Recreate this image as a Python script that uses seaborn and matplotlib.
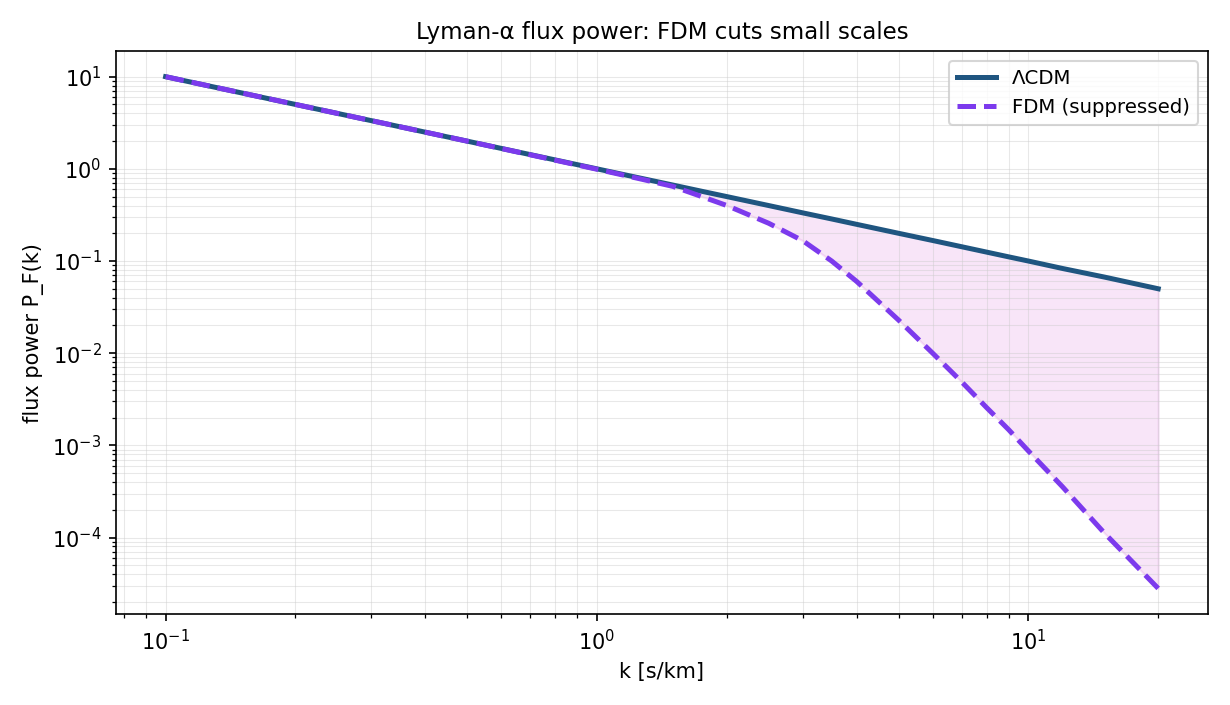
import numpy as np
import pandas as pd
import seaborn as sns
import matplotlib
matplotlib.use("Agg")
import matplotlib.pyplot as plt

# values (log-log axes)
k_vals = [0.1, 0.2, 0.5, 1.0, 1.25, 1.5, 1.75, 2.0, 2.5, 3.0, 3.5, 4.0,
          5.0, 6.0, 7.0, 8.0, 9.0, 10.0, 12.0, 15.0, 20.0]
p_lcdm = [10.0, 5.0, 2.0, 1.0, 0.80, 0.667, 0.571, 0.50, 0.40, 0.333, 0.286, 0.25,
          0.20, 0.167, 0.143, 0.125, 0.111, 0.10, 0.083, 0.067, 0.05]
p_fdm = [10.0, 5.0, 2.0, 0.99, 0.785, 0.645, 0.50, 0.40, 0.257, 0.166, 0.10, 0.060,
         0.0229, 0.0100, 0.0049, 0.00257, 0.00148, 0.00087, 0.000355, 0.000112, 2.8e-5]

df = pd.DataFrame({"k": k_vals, "lcdm": p_lcdm, "fdm": p_fdm})

fig = plt.figure(figsize=(8.2, 4.7), dpi=150)
ax = fig.add_axes([0.0943, 0.129, 0.8877, 0.7985])

sns.lineplot(data=df, x="k", y="lcdm", ax=ax, color="#1f5580", linewidth=2.4,
             label="ΛCDM")
sns.lineplot(data=df, x="k", y="fdm", ax=ax, color="#7c3aed", linewidth=2.4,
             linestyle="--", label="FDM (suppressed)")
ax.fill_between(df["k"], df["fdm"], df["lcdm"], color="m", alpha=0.1)

ax.set_xscale("log")
ax.set_yscale("log")
ax.grid(True, which="both", color="#cccccc", alpha=0.45, linewidth=0.5)
ax.set_xlabel("k [s/km]")
ax.set_ylabel("flux power P_F(k)")
ax.set_title("Lyman-α flux power: FDM cuts small scales", fontsize=11)
ax.legend(loc="upper right", fontsize=9.5)

fig.savefig("out.png", dpi=150)
